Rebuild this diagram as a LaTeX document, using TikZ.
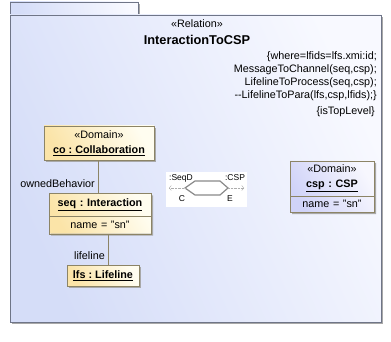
\documentclass[tikz,border=0pt]{standalone}
\usepackage{fontspec}
\setmainfont{Liberation Sans}
\usetikzlibrary{shapes.multipart,shadows,arrows.meta}
\frenchspacing

\definecolor{frameline}{HTML}{6F7587}
\definecolor{framedark}{HTML}{D5DDF8}
\definecolor{framelight}{HTML}{F8F9FF}
\definecolor{boxline}{HTML}{8C8466}
\definecolor{domdark}{HTML}{FBE4A8}
\definecolor{domlight}{HTML}{FFFDF0}
\definecolor{cspdark}{HTML}{D0D3F8}
\definecolor{csplight}{HTML}{F7F7FE}
\definecolor{shadowgray}{HTML}{A8A8A8}
\definecolor{icon}{HTML}{8A8A8A}

\tikzset{
  txt/.style={font=\fontsize{10.8}{13}\selectfont, inner sep=0pt},
  shd/.style={drop shadow={shadow xshift=2pt, shadow yshift=-2pt, fill=shadowgray, opacity=1}},
  instance/.style={draw=boxline, shd, txt, shading=axis, left color=domdark, right color=domlight, shading angle=120},
  cspbox/.style={instance, left color=cspdark, right color=csplight, shading angle=120}
}

\begin{document}
\begin{tikzpicture}[x=1pt, y=-1pt]
\useasboundingbox (0,0) rectangle (391,342);

% relation frame with its tab
\fill[shadowgray] (12,4) rectangle (140,17);
\fill[shadowgray] (12,17) rectangle (383,324);
\shade[draw=frameline, left color=framedark, right color=framelight, shading angle=100] (10,2) rectangle (138,15);
\shade[draw=frameline, left color=framedark, right color=framelight, shading angle=115] (10,15) rectangle (381,322);

\node[txt] (stereo) at (197,24) {«Relation»};
\node[txt, font=\fontsize{12.8}{14}\selectfont\bfseries] (title) at (197,40) {InteractionToCSP};
\node[txt, anchor=north east, align=right] (where) at (377,51)
  {\{where=lfids=lfs.xmi:id;\\MessageToChannel(seq,csp);\\LifelineToProcess(seq,csp);\\-{}-LifelineToPara(lfs,csp,lfids);\}};
\node[txt, anchor=north east] (toplevel) at (375,106) {\{isTopLevel\}};

% domain instances
\node[instance, minimum width=110, minimum height=34, align=center, font=\fontsize{10.8}{15}\selectfont] (co) at (99,143)
  {«Domain»\\\underline{\textbf{co : Collaboration}}};

\node[instance, rectangle split, rectangle split parts=2, text width=90, align=center, inner xsep=6, inner ysep=5] (seq) at (100,213.5)
  {\underline{\textbf{seq : Interaction}}\nodepart{two}\raggedright name = "sn"};

\node[instance, minimum width=72, minimum height=21] (lfs) at (103,275.5)
  {\underline{\textbf{lfs : Lifeline}}};

\node[cspbox, rectangle split, rectangle split parts=2, text width=72, align=center, inner xsep=6, inner ysep=4, font=\fontsize{10.8}{15}\selectfont] (csp) at (332,186.5)
  {«Domain»\\\underline{\textbf{csp : CSP}}\nodepart{two}\raggedright name = "sn"};

\draw[boxline] ([xshift=-1pt]co.south) -- ([xshift=-1pt]co.south |- seq.north);
\node[txt, anchor=east] (owned) at (95,184) {ownedBehavior};
\draw[boxline] ([xshift=5pt]lfs.north) -- ([xshift=5pt]lfs.north |- seq.south);
\node[txt, anchor=east] (lifeline) at (105,256) {lifeline};

% mapping icon
\fill[white] (166,172) rectangle (247,207);
\coordinate (hl) at (185,188);
\coordinate (hr) at (228,188);
\coordinate (al) at (169,188);
\coordinate (ar) at (244,188);
\draw[icon, line width=1.2pt] (hl) -- (195,181) -- (220,181) -- (hr) -- (220,195) -- (195,195) -- cycle;
\draw[icon!70, densely dotted, -{Straight Barb[length=2pt, width=5pt]}] (hl) -- (al);
\draw[icon!70, densely dotted, -{Straight Barb[length=2pt, width=5pt]}] (hr) -- (ar);
\node[inner sep=0pt, font=\fontsize{8.5}{9}\selectfont] (seqd) at (181,178) {:SeqD};
\node[inner sep=0pt, font=\fontsize{8.5}{9}\selectfont] (cspd) at (235,178) {:CSP};
\node[inner sep=0pt, font=\fontsize{8.5}{9}\selectfont] (c) at (182,199) {C};
\node[inner sep=0pt, font=\fontsize{8.5}{9}\selectfont] (e) at (230,199) {E};
\end{tikzpicture}
\end{document}
